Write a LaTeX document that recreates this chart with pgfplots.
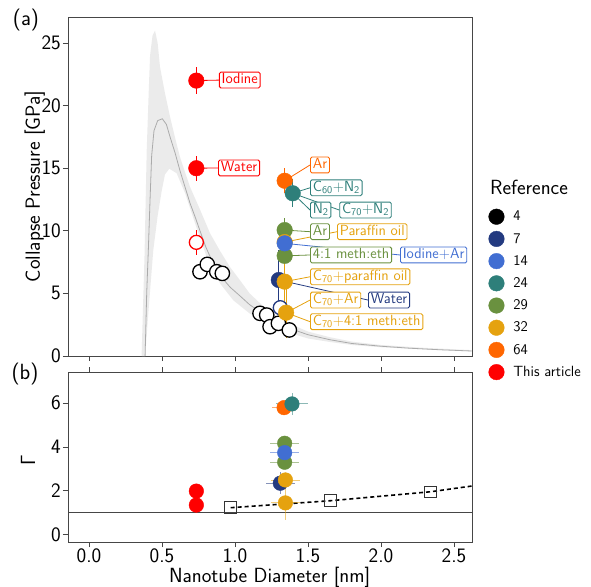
\documentclass[border=0pt]{standalone}
\usepackage{fontspec}
\usepackage{pgfplots}
\pgfplotsset{compat=1.18}
\renewcommand{\familydefault}{\sfdefault}

\definecolor{c7}{RGB}{35,58,128}
\definecolor{c14}{RGB}{65,110,210}
\definecolor{c24}{RGB}{46,127,122}
\definecolor{c29}{RGB}{106,145,63}
\definecolor{c32}{RGB}{229,162,15}
\definecolor{c64}{RGB}{255,102,0}
\definecolor{band}{RGB}{235,235,235}
\definecolor{axgray}{RGB}{70,70,70}

\newcommand{\fbig}{\fontsize{20.5}{24}\selectfont}
\newcommand{\fann}{\fontsize{14.7}{17}\selectfont}
\newcommand{\fleg}{\fontsize{14.8}{17}\selectfont}

\tikzset{
  ann/.style={draw=#1, text=#1, fill=white, rounded corners=1.5pt, line width=0.9pt,
    anchor=west, inner xsep=2.3pt, inner ysep=1.7pt, text height=10pt, text depth=2.5pt, font=\fann},
  con/.style={draw=#1, line width=0.8pt},
}
\pgfplotsset{
  common/.style={
    scale only axis, width=404pt,
    xmin=-0.144, xmax=2.623,
    xtick={0,0.5,1,1.5,2,2.5},
    tick align=outside, major tick length=5pt,
    ytick pos=left,
    axis line style={axgray, line width=0.9pt},
    tick style={axgray, line width=0.9pt},
    tick label style={font=\fbig, inner sep=2pt},
    label style={font=\fbig, inner sep=0pt},
    /pgf/number format/assume math mode=true,
  },
  pt/.style={only marks, mark=*, mark size=7.8pt, color=#1, forget plot,
    error bars/.cd, y dir=both, y explicit, error mark=none,
    error bar style={line width=0.8pt, #1}},
  pb/.style={only marks, mark=*, mark size=7.3pt, color=#1, forget plot,
    error bars/.cd, x dir=both, x explicit, y dir=both, y explicit, error mark=none,
    error bar style={line width=0.9pt, #1, opacity=0.55}},
}

\begin{document}
\begin{tikzpicture}
\useasboundingbox (0,0) rectangle (591pt,-586pt);

% (a) collapse pressure
\begin{axis}[common,
    at={(68pt,-356pt)}, anchor=south west,
    height=339pt,
    ymin=0, ymax=27.08,
    ytick={0,5,10,15,20,25},
    xtick pos=left, xticklabels={},
    ylabel={Collapse Pressure [GPa]},
    ylabel style={at={(axis description cs:-0.082,0.5)}, anchor=center},
    legend style={at={(axis description cs:1.0408,0.4345)}, anchor=north west,
      draw=none, fill=none, inner sep=0pt, font=\fleg, row sep=6.6pt,
      column sep=8pt, nodes={inner sep=1pt}},
    legend cell align=left,
]
\addlegendimage{only marks, mark=*, mark size=7.8pt, black}
\addlegendentry{4}
\addlegendimage{only marks, mark=*, mark size=7.8pt, c7}
\addlegendentry{7}
\addlegendimage{only marks, mark=*, mark size=7.8pt, c14}
\addlegendentry{14}
\addlegendimage{only marks, mark=*, mark size=7.8pt, c24}
\addlegendentry{24}
\addlegendimage{only marks, mark=*, mark size=7.8pt, c29}
\addlegendentry{29}
\addlegendimage{only marks, mark=*, mark size=7.8pt, c32}
\addlegendentry{32}
\addlegendimage{only marks, mark=*, mark size=7.8pt, c64}
\addlegendentry{64}
\addlegendimage{only marks, mark=*, mark size=7.8pt, red}
\addlegendentry{This article}

% confidence band
\addplot[fill=band, draw=none, forget plot] coordinates {
  (0.36,0) (0.38,8) (0.395,16.4) (0.41,21.5) (0.418,24.0) (0.435,25.6) (0.452,26.0)
  (0.47,25.0) (0.486,23.1) (0.52,21.0) (0.555,19.1) (0.59,17.4) (0.623,15.9)
  (0.66,14.6) (0.692,13.5) (0.76,11.7) (0.829,9.8) (0.897,8.4) (0.966,7.1)
  (1.034,6.05) (1.1,5.0) (1.2,3.9) (1.3,3.05) (1.4,2.45) (1.5,1.95) (1.65,1.5)
  (1.8,1.15) (2.0,0.88) (2.3,0.65) (2.62,0.47)
  (2.62,0.36) (2.3,0.53) (2.0,0.7) (1.8,0.88) (1.65,1.12) (1.5,1.4) (1.4,1.75)
  (1.3,2.2) (1.2,2.75) (1.1,3.4) (0.988,4.45) (0.897,5.8) (0.806,7.9) (0.726,10.6)
  (0.658,13.0) (0.6,14.6) (0.55,14.96) (0.52,14.5) (0.498,13.2) (0.47,11.2)
  (0.44,8.44) (0.41,4.0) (0.384,0)
};
% model curve
\addplot[color=black!33, line width=0.8pt, forget plot] coordinates {
  (0.384,0) (0.395,5) (0.406,8.4) (0.418,12.5) (0.429,16.0) (0.445,18.0) (0.47,18.8)
  (0.502,18.95) (0.53,18.5) (0.555,17.5) (0.59,16.2) (0.623,14.8) (0.66,13.4)
  (0.692,12.2) (0.73,11.0) (0.76,10.0) (0.8,8.7) (0.85,7.4) (0.9,6.4) (0.966,5.5)
  (1.034,4.8) (1.1,4.1) (1.2,3.3) (1.3,2.6) (1.4,2.1) (1.5,1.7) (1.65,1.3)
  (1.8,1.0) (2.0,0.78) (2.2,0.62) (2.4,0.5) (2.62,0.4)
};

% ref 4 (open)
\addplot[only marks, mark=*, mark size=7.2pt, forget plot,
  mark options={fill=white, draw=black, line width=1.3pt}] coordinates {
  (0.76,6.73) (0.81,7.32) (0.875,6.73) (0.913,6.6)
  (1.171,3.41) (1.217,3.27) (1.24,2.34) (1.297,2.61) (1.372,2.08)
};
% ref 7
\addplot[pt=c7] coordinates {(1.30,6.07) +- (0,2.4)};
\addplot[only marks, mark=*, mark size=7pt, forget plot,
  mark options={fill=white, draw=c7, line width=1.3pt}] coordinates {(1.31,3.86)};
% ref 29
\addplot[pt=c29] coordinates {(1.34,10.06) +- (0,1.0) (1.34,8.0) +- (0,0.8)};
% ref 32 hidden
\addplot[pt=c32] coordinates {(1.34,9.1) +- (0,0)};
% ref 14
\addplot[pt=c14] coordinates {(1.34,9.0) +- (0,0)};
% ref 32
\addplot[pt=c32] coordinates {(1.34,5.94) +- (0,2.0) (1.35,3.46) +- (0,2.0)};
% ref 64
\addplot[pt=c64] coordinates {(1.34,14.0) +- (0,1.0)};
% ref 24
\addplot[pt=c24] coordinates {(1.395,13.0) +- (0,1.1)};
% this article
\addplot[pt=red] coordinates {(0.735,22) +- (0,1.1) (0.735,15) +- (0,1.0)};
\addplot[only marks, mark=*, mark size=7pt, forget plot,
  mark options={fill=white, draw=red, line width=1.3pt},
  error bars/.cd, y dir=both, y explicit, error mark=none,
  error bar style={line width=0.8pt, red}] coordinates {(0.735,9.08) +- (0,1.0)};

% connectors
\draw[con=red] (axis cs:0.735,22) -- (axis cs:0.89,22.04);
\draw[con=red] (axis cs:0.735,15) -- (axis cs:0.884,15.02);
\draw[con=c64] (axis cs:1.34,14.0) -- (axis cs:1.514,15.26);
\draw[con=c24] (axis cs:1.395,13.0) -- (axis cs:1.514,13.44);
\draw[con=c24] (axis cs:1.395,13.0) -- (axis cs:1.514,11.66);
\draw[con=c24] (axis cs:1.395,13.0) -- (axis cs:1.714,11.66);
\draw[con=c29] (axis cs:1.34,10.06) -- (axis cs:1.514,9.93);
\draw[con=c32] (axis cs:1.34,9.1) -- (axis cs:1.699,9.93);
\draw[con=c29] (axis cs:1.34,8.0) -- (axis cs:1.514,8.07);
\draw[con=c14] (axis cs:1.34,9.0) -- (axis cs:2.13,8.07);
\draw[con=c32] (axis cs:1.34,5.94) -- (axis cs:1.514,6.33);
\draw[con=c7] (axis cs:1.30,6.07) -- (axis cs:1.911,4.47);
\draw[con=c32] (axis cs:1.35,3.46) -- (axis cs:1.514,4.47);
\draw[con=c32] (axis cs:1.35,3.46) -- (axis cs:1.514,2.74);

% labels
\node[ann=red] at (axis cs:0.89,22.04) {Iodine};
\node[ann=red] at (axis cs:0.884,15.02) {Water};
\node[ann=c64] at (axis cs:1.514,15.26) {Ar};
\node[ann=c24] at (axis cs:1.514,13.44) {C\textsubscript{60}+N\textsubscript{2}};
\node[ann=c24] at (axis cs:1.514,11.66) {N\textsubscript{2}};
\node[ann=c24] at (axis cs:1.714,11.66) {C\textsubscript{70}+N\textsubscript{2}};
\node[ann=c29] at (axis cs:1.514,9.93) {Ar};
\node[ann=c32] at (axis cs:1.699,9.93) {Paraffin oil};
\node[ann=c29] at (axis cs:1.514,8.07) {4:1 meth:eth};
\node[ann=c14] at (axis cs:2.13,8.07) {Iodine+Ar};
\node[ann=c32] at (axis cs:1.514,6.33) {C\textsubscript{70}+paraffin oil};
\node[ann=c32] at (axis cs:1.514,4.47) {C\textsubscript{70}+Ar};
\node[ann=c7] at (axis cs:1.911,4.47) {Water};
\node[ann=c32] at (axis cs:1.514,2.74) {C\textsubscript{70}+4:1 meth:eth};
\end{axis}

% (b) Gamma
\begin{axis}[common,
    at={(68pt,-542pt)}, anchor=south west,
    height=170pt,
    ymin=-0.35, ymax=7.43,
    ytick={0,2,4,6},
    xtick pos=both, xticklabel pos=left,
    xticklabels={0.0,0.5,1.0,1.5,2.0,2.5},
    xlabel={Nanotube Diameter [nm]},
    xlabel style={at={(axis description cs:0.499,-0.21)}, anchor=center},
    ylabel={Γ},
    ylabel style={at={(axis description cs:-0.099,0.48)}, anchor=center},
]
\addplot[axgray, line width=0.9pt, forget plot] coordinates {(-0.144,1) (2.623,1)};
\addplot[black, line width=1.6pt, dash pattern=on 4pt off 3pt, forget plot]
  coordinates {(0.97,1.22) (1.655,1.54) (2.34,1.95) (2.62,2.21)};
\addplot[only marks, mark=square, mark size=5.8pt, forget plot,
  mark options={draw=black!80, line width=0.9pt, solid}]
  coordinates {(0.97,1.22) (1.655,1.54) (2.34,1.95)};

\addplot[pb=c7] coordinates {(1.31,2.34) +- (0.1,0.5)};
\addplot[pb=c29] coordinates {(1.34,4.17) +- (0.1,0.3) (1.34,3.3) +- (0.1,0.3)};
\addplot[pb=c14] coordinates {(1.34,3.74) +- (0.1,0.3)};
\addplot[pb=c32] coordinates {(1.345,2.49) +- (0.1,0.3) (1.345,1.44) +- (0.1,0.8)};
\addplot[pb=c64] coordinates {(1.336,5.8) +- (0.08,0.3)};
\addplot[pb=c24] coordinates {(1.39,5.97) +- (0.11,0.5)};
\addplot[only marks, mark=*, mark size=7.3pt, color=red, forget plot]
  coordinates {(0.735,1.98) (0.735,1.34)};
\end{axis}

\node[font=\fontsize{22}{26}\selectfont] at (26pt,-20pt) {(a)};
\node[font=\fontsize{22}{26}\selectfont] at (25pt,-374pt) {(b)};
\node[font=\fbig, anchor=west, inner sep=0pt] at (490pt,-187pt) {Reference};
\end{tikzpicture}
\end{document}
